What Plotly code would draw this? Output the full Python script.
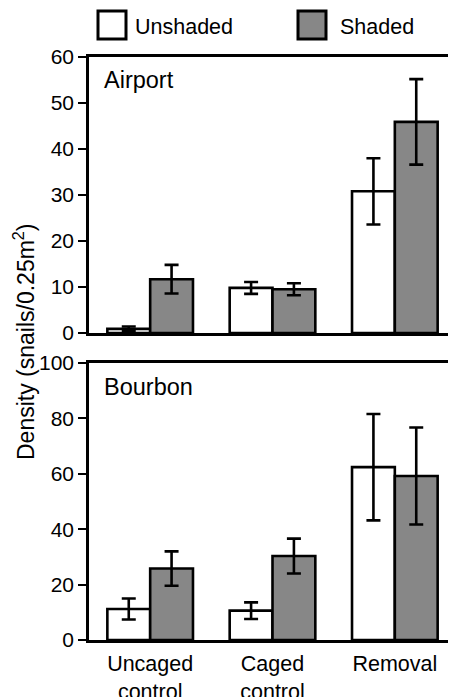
import plotly.graph_objects as go

categories = ["Uncaged<br>control", "Caged<br>control", "Removal"]

airport_unshaded = [0.9, 9.8, 30.8]
airport_unshaded_err = [0.5, 1.3, 7.2]
airport_shaded = [11.7, 9.5, 45.9]
airport_shaded_err = [3.1, 1.3, 9.3]

bourbon_unshaded = [11.2, 10.6, 62.4]
bourbon_unshaded_err = [3.8, 3.0, 19.2]
bourbon_shaded = [25.8, 30.3, 59.2]
bourbon_shaded_err = [6.2, 6.3, 17.5]

series_names = ["Unshaded", "Shaded"]
panel_names = ["Airport", "Bourbon"]
airport_ticks = [0, 10, 20, 30, 40, 50, 60]
bourbon_ticks = [0, 20, 40, 60, 80, 100]

# page has an 8px body margin; compensate so the chart lands where the reference has it
OFF = 8
W, H = 456 - OFF, 697 - OFF
ML, MR, MT = 89 - OFF, 0, 57 - OFF
MB = H - (640 - OFF)
PW, PH = W - ML - MR, H - MT - MB

FONT = "Liberation Sans, Arial, sans-serif"
GRAY = "#878787"
LW = 2.6


def py(p):  # reference pixel y -> paper y
    return (H - MB - (p - OFF)) / PH


def px(p):  # reference pixel x -> paper x
    return ((p - OFF) - ML) / PW


fig = go.Figure()

def add_bars(vals, errs, color, name, xa, ya, og):
    fig.add_trace(go.Bar(
        x=categories, y=vals, name=name, offsetgroup=og,
        marker=dict(color=color, line=dict(color="black", width=LW)),
        error_y=dict(type="data", array=errs, visible=True, color="black",
                     thickness=2.6, width=7),
        xaxis=xa, yaxis=ya, showlegend=False,
    ))

add_bars(airport_unshaded, airport_unshaded_err, "white", series_names[0], "x", "y", "u")
add_bars(airport_shaded, airport_shaded_err, GRAY, series_names[1], "x", "y", "s")
add_bars(bourbon_unshaded, bourbon_unshaded_err, "white", series_names[0], "x2", "y2", "u")
add_bars(bourbon_shaded, bourbon_shaded_err, GRAY, series_names[1], "x2", "y2", "s")

top_dom = [py(333), 1.0]
bot_dom = [0.0, py(363)]

axis_common = dict(showline=True, linecolor="black", linewidth=LW,
                   showgrid=False, zeroline=False, automargin=False)

fig.update_layout(
    width=W, height=H,
    margin=dict(l=ML, r=MR, t=MT, b=MB),
    paper_bgcolor="white", plot_bgcolor="white",
    barmode="group", bargap=0.3, bargroupgap=0,
    font=dict(family=FONT, color="black", size=21),
    xaxis=dict(domain=[0, 1], anchor="y", range=[-0.5, 2.5], mirror=True,
               showticklabels=False, ticks="", **axis_common),
    yaxis=dict(domain=top_dom, anchor="x", range=[0, 60], tickvals=airport_ticks,
               ticks="outside", ticklen=8, tickwidth=2, tickcolor="black",
               tickfont=dict(size=21), **axis_common),
    xaxis2=dict(domain=[0, 1], anchor="y2", range=[-0.5, 2.5], mirror=True,
                ticks="", tickfont=dict(size=21.5), ticklabelstandoff=2,
                **axis_common),
    yaxis2=dict(domain=bot_dom, anchor="x2", range=[0, 100], tickvals=bourbon_ticks,
                ticks="outside", ticklen=8, tickwidth=2, tickcolor="black",
                tickfont=dict(size=21), **axis_common),
)

annotations = [
    dict(text=panel_names[0], x=px(102), y=py(80), xref="paper", yref="paper",
         xanchor="left", yanchor="middle", showarrow=False, font=dict(size=23.5)),
    dict(text=panel_names[1], x=px(102), y=py(387), xref="paper", yref="paper",
         xanchor="left", yanchor="middle", showarrow=False, font=dict(size=23.5)),
    dict(text="Density (snails/0.25m<sup>2</sup>)", x=px(24), y=py(342),
         xref="paper", yref="paper", xanchor="center", yanchor="middle",
         textangle=-90, showarrow=False, font=dict(size=23)),
    dict(text=series_names[0], x=px(133), y=py(27), xref="paper", yref="paper",
         xanchor="left", yanchor="middle", showarrow=False, font=dict(size=21.5)),
    dict(text=series_names[1], x=px(338), y=py(27), xref="paper", yref="paper",
         xanchor="left", yanchor="middle", showarrow=False, font=dict(size=21.5)),
]
fig.update_layout(annotations=annotations)

shapes = [
    dict(type="rect", xref="paper", yref="paper", x0=px(98), x1=px(126),
         y0=py(39), y1=py(11), fillcolor="white", line=dict(color="black", width=3)),
    dict(type="rect", xref="paper", yref="paper", x0=px(298), x1=px(326),
         y0=py(39), y1=py(11), fillcolor=GRAY, line=dict(color="black", width=3)),
]
fig.update_layout(shapes=shapes)

fig.write_html("out.html")
